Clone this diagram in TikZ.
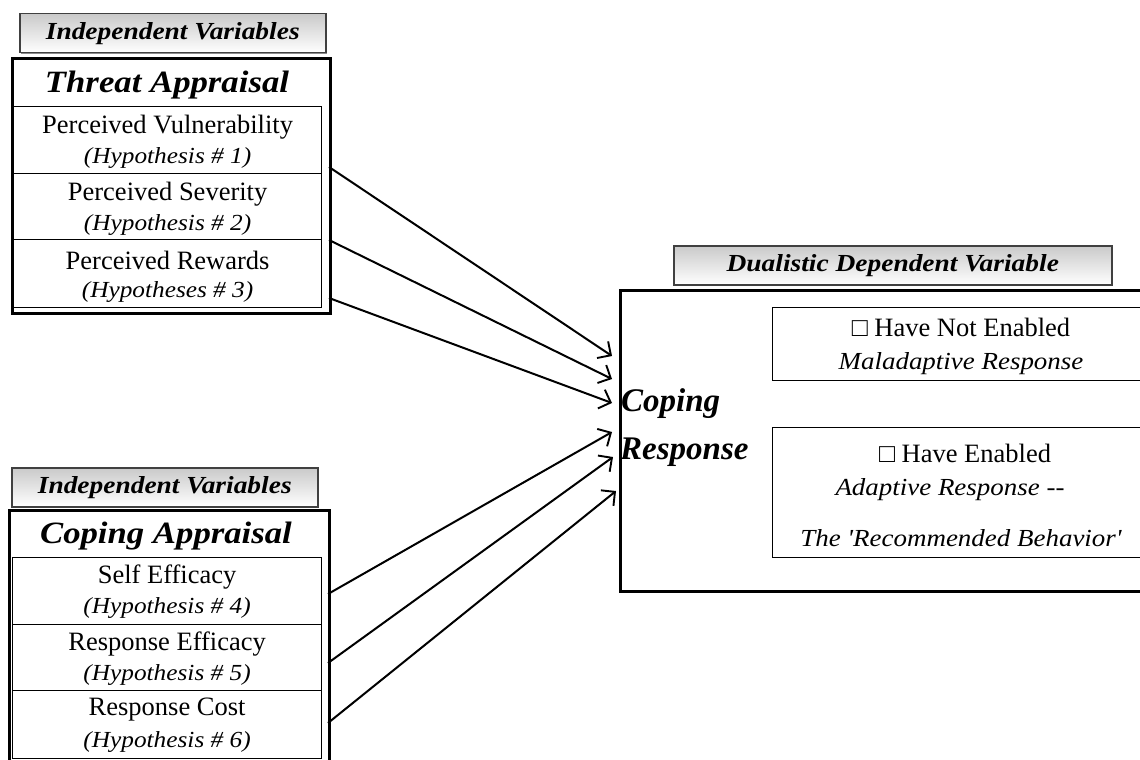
\documentclass[tikz,border=0pt]{standalone}
\usepackage{fontspec}
\setmainfont{Liberation Serif}
\newfontfamily\wideserif[FakeStretch=1.12]{Liberation Serif}
\newfontfamily\slightwide[FakeStretch=1.1]{Liberation Serif}
\usetikzlibrary{arrows.meta,shadows}

\tikzset{
  labelbox/.style={draw=black!75, line width=1.5pt, top color=gray!42, bottom color=white,
    anchor=north west, inner sep=0pt,
    drop shadow={shadow xshift=1.3pt, shadow yshift=-1.3pt, opacity=0.45, fill=black},
    font=\wideserif\bfseries\itshape\fontsize{24.5}{27}\selectfont},
  frame/.style={draw=black, line width=3pt, fill=white, anchor=north west, inner sep=0pt},
  rowbox/.style={draw=black, line width=1.2pt, anchor=north west, inner sep=0pt},
  titletxt/.style={font=\wideserif\bfseries\itshape\fontsize{31}{34}\selectfont, inner sep=0pt},
  maintxt/.style={font=\fontsize{26.5}{30}\selectfont, inner sep=0pt},
  hyptxt/.style={font=\slightwide\itshape\fontsize{23}{26}\selectfont, inner sep=0pt},
  outtxt/.style={font=\slightwide\itshape\fontsize{24.5}{28}\selectfont, inner sep=0pt},
  coptxt/.style={font=\bfseries\itshape\fontsize{33}{36}\selectfont, inner sep=0pt, anchor=west},
  link/.style={draw=black, line width=2pt,
    -{Straight Barb[length=10pt,width=20pt,line width=1.9pt]}},
}

\begin{document}
\begin{tikzpicture}[x=1pt, y=-1pt]
\useasboundingbox (0,0) rectangle (1140,760);
\fill[white] (0,0) rectangle (1140,760);

% ---------- threat appraisal group ----------
\node[labelbox, minimum width=306pt, minimum height=39pt] (lab1) at (19,13) {Independent Variables};
\node[frame, minimum width=318pt, minimum height=255pt] (threat) at (11,57) {};
\node[titletxt] (ttitle) at (167,85) {Threat Appraisal};
\node[rowbox, minimum width=308pt, minimum height=67pt] (r1) at (13,106) {};
\node[rowbox, minimum width=308pt, minimum height=66pt] (r2) at (13,173) {};
\node[rowbox, minimum width=308pt, minimum height=68pt] (r3) at (13,239) {};
\node[maintxt] (r1a) at ([yshift=-21pt]r1.north) {Perceived Vulnerability};
\node[hyptxt]  (r1b) at ([yshift=-52pt]r1.north) {(Hypothesis \# 1)};
\node[maintxt] (r2a) at ([yshift=-21pt]r2.north) {Perceived Severity};
\node[hyptxt]  (r2b) at ([yshift=-52pt]r2.north) {(Hypothesis \# 2)};
\node[maintxt] (r3a) at ([yshift=-21pt]r3.north) {Perceived Rewards};
\node[hyptxt]  (r3b) at ([yshift=-53pt]r3.north) {(Hypotheses \# 3)};

% ---------- coping appraisal group ----------
\node[labelbox, minimum width=306pt, minimum height=39pt] (lab2) at (11,467) {Independent Variables};
\node[frame, minimum width=320pt, minimum height=262pt] (coping) at (8,509) {};
\node[titletxt] (ctitle) at (166,536) {Coping Appraisal};
\node[rowbox, minimum width=309pt, minimum height=67pt] (s1) at (12,557) {};
\node[rowbox, minimum width=309pt, minimum height=66pt] (s2) at (12,624) {};
\node[rowbox, minimum width=309pt, minimum height=68pt] (s3) at (12,690) {};
\node[maintxt] (s1a) at ([yshift=-20pt]s1.north) {Self Efficacy};
\node[hyptxt]  (s1b) at ([yshift=-51pt]s1.north) {(Hypothesis \# 4)};
\node[maintxt] (s2a) at ([yshift=-20pt]s2.north) {Response Efficacy};
\node[hyptxt]  (s2b) at ([yshift=-51pt]s2.north) {(Hypothesis \# 5)};
\node[maintxt] (s3a) at ([yshift=-20pt]s3.north) {Response Cost};
\node[hyptxt]  (s3b) at ([yshift=-52pt]s3.north) {(Hypothesis \# 6)};

% ---------- dependent variable ----------
\node[labelbox, minimum width=438pt, minimum height=39pt] (lab3) at (673,245) {Dualistic Dependent Variable};
\node[frame, minimum width=560pt, minimum height=301pt] (resp) at (619,289) {};
\node[rowbox, minimum width=420pt, minimum height=73pt] (mal) at (772,307) {};
\node[rowbox, minimum width=420pt, minimum height=130pt] (ada) at (772,427) {};
\node[coptxt] (cop1) at (621,404) {Coping};
\node[coptxt] (cop2) at (620,452) {Response};
\node[maintxt] (mal1) at (961,327) {□ Have Not Enabled};
\node[outtxt]  (mal2) at (961,364) {Maladaptive Response};
\node[maintxt] (ada1) at (965,453) {□ Have Enabled};
\node[outtxt]  (ada2) at (950,490) {Adaptive Response --};
\node[outtxt]  (ada3) at (961,538) {The 'Recommended Behavior'};

% ---------- arrow end points ----------
\coordinate (a1) at (329,167);
\coordinate (a2) at (329,240);
\coordinate (a3) at (329,298);
\coordinate (b1) at (328,594);
\coordinate (b2) at (328,663);
\coordinate (b3) at (328,723);
\coordinate (e1) at (612,356);
\coordinate (e2) at (612,379);
\coordinate (e3) at (612,403);
\coordinate (e4) at (612,432);
\coordinate (e5) at (613,457);
\coordinate (e6) at (616,491);

\draw[link] (a1) -- (e1);
\draw[link] (a2) -- (e2);
\draw[link] (a3) -- (e3);
\draw[link] (b1) -- (e4);
\draw[link] (b2) -- (e5);
\draw[link] (b3) -- (e6);
\end{tikzpicture}
\end{document}
